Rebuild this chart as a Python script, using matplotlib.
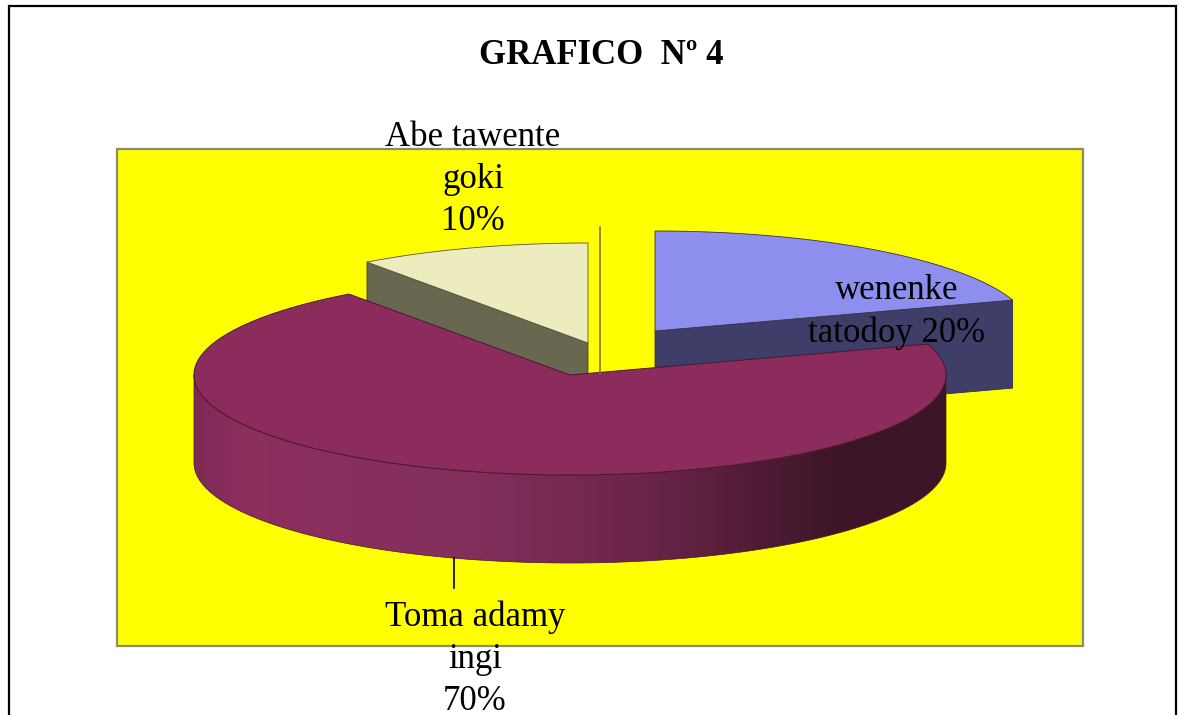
import numpy as np
import matplotlib
matplotlib.use("Agg")
import matplotlib.pyplot as plt
from matplotlib.colors import LinearSegmentedColormap
from matplotlib.patches import Polygon, Rectangle

# slices, clockwise from 12 o'clock
names = ["wenenke\ntatodoy", "Toma adamy\ningi", "Abe tawente\ngoki"]
values = [20, 70, 10]
top_colors = ["#8E8EEE", "#8C2C5C", "#ECECBE"]
side_colors = ["#3E3E68", None, "#686850"]
title = "GRAFICO  Nº 4"

centers = [(655, 331), (570, 375), (588, 343)]
rx, ry, depth = 376, 100, 88
shade = LinearSegmentedColormap.from_list(
    "shade", [(0, "#7E2A55"), (0.06, "#8C2F5E"), (0.36, "#84305C"),
              (0.6, "#6A2549"), (0.85, "#3E1628"), (1, "#3C1526")])


def arc(center, a0, a1, n=200):
    t = np.radians(np.linspace(a0, a1, n))
    return np.column_stack([center[0] + rx * np.cos(t), center[1] - ry * np.sin(t)])


plt.rcParams["font.family"] = ["Liberation Serif", "DejaVu Serif"]
fig = plt.figure(figsize=(11.86, 7.15), dpi=100)
ax = fig.add_axes([0, 0, 1, 1])
ax.axis("off")

# outer frame
ax.plot([9, 9, 1176, 1176], [715, 6, 6, 715], color="black", lw=1.6, solid_joinstyle="miter")
ax.text(601, 55, title, ha="center", va="center", fontsize=25, fontweight="bold")

# plot area
ax.add_patch(Rectangle((117, 149), 966, 497, fc="#FFFF00", ec="#8A8A70", lw=1.6))
ax.plot([600, 600], [227, 373], color="#7A7A30", lw=1.2)

# slice angles from the values
angles = 90 - np.concatenate([[0], np.cumsum(values)]) * 3.6
edge = "#33304A"

# blue slice
a0, a1 = angles[0], angles[1]
c = centers[0]
tip = arc(c, a1, a1, 1)[0]
ax.add_patch(Polygon([c, tip, (tip[0], tip[1] + depth), (c[0], c[1] + depth)],
                     fc=side_colors[0], ec=edge, lw=0.6))
ax.add_patch(Polygon(np.vstack([[c], arc(c, a0, a1)]), fc=top_colors[0], ec=edge, lw=0.6))

# cream slice
a0, a1 = angles[2], angles[3]
c = centers[2]
tip = arc(c, a0, a0, 1)[0]
ax.add_patch(Polygon([c, tip, (tip[0], tip[1] + depth), (c[0], c[1] + depth)],
                     fc=side_colors[2], ec="#3C3C2C", lw=0.6))
ax.add_patch(Polygon(np.vstack([[c], arc(c, a0, a1)]), fc=top_colors[2], ec="#55553A", lw=0.6))

# big slice: rim as a clipped gradient, then the top
a0, a1 = angles[1], angles[2]
c = centers[1]
front = arc(c, 180, 360, 300)
rim = Polygon(np.vstack([front, front[::-1] + [0, depth]]), fc="none", ec="#4A1830", lw=0.5, zorder=1.2)
ax.add_patch(rim)
grad = ax.imshow(np.linspace(0, 1, 512).reshape(1, -1), cmap=shade, aspect="auto",
                 extent=(c[0] - rx, c[0] + rx, c[1] + ry + depth, c[1]), zorder=1.1)
grad.set_clip_path(rim)
ax.add_patch(Polygon(np.vstack([[c], arc(c, a0, a1, 400)]), fc=top_colors[1], ec="#4A1830", lw=0.7, zorder=1.3))

# leader line and labels
ax.plot([454, 454], [558, 588], color="black", lw=1.2, zorder=1.4)
label_pos = [(897, 312), (475, 659), (473, 179)]
for name, v, (x, y) in zip(names, values, label_pos):
    ax.text(x, y, f"{name} {v}%" if v == 20 else f"{name}\n{v}%", ha="center", va="center",
            fontsize=25, linespacing=1.36, color="black", zorder=5)

ax.set_xlim(0, 1186)
ax.set_ylim(715, 0)
fig.savefig("out.png", dpi=100)
